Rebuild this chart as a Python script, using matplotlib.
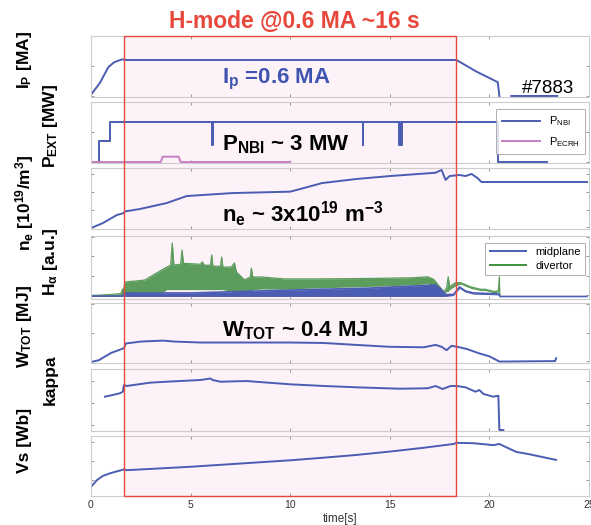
import numpy as np
import matplotlib
matplotlib.use("Agg")
import matplotlib.pyplot as plt
from matplotlib.patches import Rectangle
from matplotlib.transforms import blended_transform_factory

plt.rcParams['font.family'] = ['Liberation Sans', 'DejaVu Sans']
plt.rcParams['mathtext.default'] = 'regular'

nan = np.nan
shot = '#7883'
h_mode = (1.65, 18.3)   # start / end of the H-mode phase [s]

# plasma current [MA]
ip_t = [0, 0.45, 0.87, 1.15, 1.55, 1.8, 18.35, 19.33, 20.42, 20.5, 20.8, 21.1, 23.4]
ip_v = [0.02, 0.22, 0.48, 0.56, 0.61, 0.6, 0.6, 0.41, 0.23, 0.0, nan, 0.0, 0.0]

# heating power [MW], step signals
nbi_t = [0.0, 0.42, 0.95, 6.08, 6.11, 13.64, 13.67, 15.46, 15.49, 15.56, 15.59, 20.42, 22.9]
nbi_v = [0.0, 1.58, 3.0, 1.3, 3.0, 1.3, 3.0, 1.3, 3.0, 1.3, 3.0, 0.0, 0.0]
ecrh_t = [0, 3.5, 3.6, 4.4, 4.5, 10.0]
ecrh_v = [0, 0, 0.4, 0.4, 0, 0]

# line averaged density [1e19 m^-3]
ne_t = [0, 0.6, 1.3, 1.65, 1.7, 2.45, 3.8, 4.8, 7.1, 10.0, 10.5, 11.6, 13.3,
        15.0, 17.3, 17.6, 17.8, 18.0, 18.5, 18.8, 19.1, 19.4, 19.6, 24.9]
ne_v = [-0.06, 0.23, 0.69, 0.8, 0.89, 1.03, 1.37, 1.77, 1.94, 2.02, 2.17, 2.51, 2.74,
        2.91, 3.1, 3.26, 2.69, 2.91, 2.97, 2.91, 3.03, 2.8, 2.57, 2.57]

# H-alpha, midplane band
mid_t = [0, 1.6, 1.65, 5.0, 10.0, 14.0, 17.3, 17.6, 17.8, 18.2, 18.5, 18.8, 19.2, 20.45, 20.55, 24.9]
mid_lo = [-0.05, -0.05, -0.05, -0.05, -0.05, -0.05, -0.05, -0.05, -0.05, 0.0, 0.36, 0.17, 0.07, 0.03, -0.05, -0.05]
mid_hi = [-0.03, -0.03, 0.13, 0.13, 0.28, 0.38, 0.54, 0.28, 0.05, 0.05, 0.44, 0.23, 0.13, 0.08, -0.05, -0.05]

# H-alpha, divertor band
div_t = [0.0, 1.0, 1.5, 1.58, 1.62, 1.7, 2.7, 3.55, 3.8, 4.0, 4.08, 4.16, 4.5, 4.57, 4.64,
         5.5, 5.58, 5.7, 6.0, 6.06, 6.12, 6.5, 6.56, 6.62, 7.05, 7.2, 7.3, 7.7, 8.0, 8.05,
         8.12, 8.55, 9.7, 11.15, 12.8, 14.5, 16.2, 16.9, 17.2, 17.7, 17.85, 17.93, 18.0,
         18.3, 18.55, 19.05, 19.55, 19.8, 20.25, 20.45, 20.5, 20.52]
div_lo = [-0.03, -0.03, -0.03, -0.03, -0.03, 0.1, 0.13, 0.13, 0.3, 0.3, 0.3, 0.3, 0.3, 0.3, 0.3,
          0.3, 0.3, 0.3, 0.3, 0.3, 0.3, 0.3, 0.3, 0.3, 0.2, 0.13, 0.13, 0.13, 0.15, 0.2,
          0.3, 0.33, 0.33, 0.38, 0.43, 0.48, 0.55, 0.6, 0.5, 0.1, 0.2, 0.2, 0.3,
          0.5, 0.58, 0.37, 0.25, 0.25, 0.13, 0.18, -0.06, -0.06]
div_hi = [0.0, 0.05, 0.1, 0.33, 0.12, 0.69, 0.79, 1.31, 1.45, 1.56, 2.69, 1.56, 1.6, 2.33, 1.65,
          1.6, 1.72, 1.55, 1.55, 2.08, 1.5, 1.5, 1.97, 1.45, 1.46, 1.67, 1.2, 0.8, 0.95, 1.41,
          0.95, 0.95, 0.85, 0.85, 0.86, 0.88, 0.91, 0.96, 0.83, 0.2, 0.37, 0.96, 0.45,
          0.66, 0.66, 0.45, 0.32, 0.32, 0.2, 0.25, 0.96, -0.06]

# stored energy [MJ]
w_t = [0, 0.4, 1.0, 1.65, 1.75, 2.5, 3.6, 4.2, 5.5, 10.0, 11.7, 13.3, 15.0, 16.7, 17.3,
       17.6, 17.85, 18.1, 18.4, 18.9, 19.5, 20.0, 20.5, 23.3, 23.35]
w_v = [-0.02, 0.02, 0.17, 0.27, 0.37, 0.41, 0.43, 0.41, 0.39, 0.39, 0.38, 0.34, 0.3, 0.29, 0.34,
       0.3, 0.23, 0.32, 0.3, 0.25, 0.16, 0.1, -0.01, 0.0, 0.06]

# elongation
k_t = [0.7, 1.45, 1.6, 1.65, 1.8, 2.95, 3.8, 5.5, 6.0, 6.1, 6.5, 7.8, 10.0, 11.7, 13.3, 15.5,
       16.9, 17.3, 17.65, 18.05, 18.35, 18.8, 19.3, 19.5, 19.7, 20.2, 20.45, 20.5, 20.7]
k_v = [1.553, 1.608, 1.634, 1.742, 1.726, 1.779, 1.795, 1.823, 1.847, 1.823, 1.795, 1.806,
       1.753, 1.726, 1.705, 1.682, 1.689, 1.726, 1.677, 1.726, 1.726, 1.705, 1.634, 1.661,
       1.597, 1.553, 1.569, 1.016, 1.016]

# loop flux [Wb]
vs_t = [0, 0.3, 0.6, 0.97, 1.65, 1.8, 5.0, 10.0, 11.7, 13.3, 15.0, 16.7, 18.2, 18.35, 19.2,
        20.2, 20.5, 20.7, 21.35, 22.0, 23.35]
vs_v = [0.32, 0.5, 0.61, 0.68, 0.78, 0.76, 0.85, 1.02, 1.09, 1.16, 1.25, 1.35, 1.45, 1.48, 1.47,
        1.42, 1.45, 1.4, 1.24, 1.18, 1.03]

blue = '#4b5cb3'
green = '#5c9c5c'
dgreen = '#3f8f3f'
pink = '#c77fc4'
red = '#e8473c'

W, H = 591, 525
fig = plt.figure(figsize=(W / 100, H / 100), dpi=100)

# panel top/bottom in pixels
rows = [(36, 97), (102, 163), (168, 229), (236, 299), (303, 363), (369, 431), (436, 496)]
left, right = 91, 589
axes = []
for top, bot in rows:
    ax = fig.add_axes([left / W, 1 - bot / H, (right - left) / W, (bot - top) / H])
    ax.set_facecolor('none')
    ax.set_xlim(0, 25)
    ax.set_xticks([0, 5, 10, 15, 20, 25])
    ax.tick_params(direction='in', length=2, width=0.6, color='#888888',
                   top=True, right=True, labelleft=False, labelbottom=False,
                   labelsize=7.5, labelcolor='#333333')
    for s in ax.spines.values():
        s.set_color('#cccccc')
        s.set_linewidth(0.8)
    axes.append(ax)
ax1, ax2, ax3, ax4, ax5, ax6, ax7 = axes

lw = 1.4
ax1.plot(ip_t, ip_v, color=blue, lw=lw)
ax1.set_ylim(-0.017, 1.0)
ax1.set_yticks([0, 0.5, 1.0])

ax2.plot(nbi_t, nbi_v, color=blue, lw=lw, drawstyle='steps-post', label='$P_{NBI}$')
ax2.plot(ecrh_t, ecrh_v, color=pink, lw=lw, label='$P_{ECRH}$')
ax2.set_ylim(-0.075, 4.5)
ax2.set_yticks([0, 2.25, 4.5])
ax2.legend(loc='upper right', bbox_to_anchor=(0.992, 0.885), borderaxespad=0, fontsize=8,
           frameon=True, fancybox=False, edgecolor='#999999', handlelength=3.4,
           labelspacing=0.6, borderpad=0.5).get_frame().set_linewidth(0.7)

ax3.plot(ne_t, ne_v, color=blue, lw=lw)
ax3.set_ylim(-0.11, 3.37)
ax3.set_yticks([0, 1, 2, 3])

ax4.fill_between(div_t, div_lo, div_hi, color=green, lw=0)
ax4.plot(div_t, div_hi, color=green, lw=0.9)
ax4.fill_between(mid_t, mid_lo, mid_hi, color=blue, lw=0)
ax4.plot(mid_t, mid_hi, color=blue, lw=1.2)
ax4.plot([], [], color=blue, lw=lw, label='midplane')
ax4.plot([], [], color=dgreen, lw=lw, label='divertor')
ax4.set_ylim(-0.18, 3.05)
ax4.set_yticks([0, 1, 2, 3])
ax4.legend(loc='upper right', bbox_to_anchor=(0.992, 0.89), borderaxespad=0, fontsize=8,
           frameon=True, fancybox=False, edgecolor='#999999', handlelength=3.3,
           labelspacing=0.3, borderpad=0.4).get_frame().set_linewidth(0.7)

ax5.plot(w_t, w_v, color=blue, lw=lw)
ax5.set_ylim(-0.04, 1.22)
ax5.set_yticks([0, 0.6, 1.2])

ax6.plot(k_t, k_v, color=blue, lw=lw)
ax6.set_ylim(1.0, 2.0)
ax6.set_yticks([1.1, 1.45, 1.8])

ax7.plot(vs_t, vs_v, color=blue, lw=lw)
ax7.set_ylim(0.08, 1.66)
ax7.set_yticks([0.5, 1.0, 1.5])
ax7.tick_params(labelbottom=True, pad=3)
ax7.set_xlabel('time[s]', fontsize=8.5, labelpad=2, color='#333333')

# annotations inside panels
ax1.text(0.263, 0.225, '$I_p$ =0.6 MA', transform=ax1.transAxes, fontsize=16,
         fontweight='bold', color='#3f53b0', va='baseline')
ax1.text(0.865, 0.06, shot, transform=ax1.transAxes, fontsize=13.5, va='baseline')
ax2.text(0.263, 0.2, '$P_{NBI}$ ~ 3 MW', transform=ax2.transAxes, fontsize=16,
         fontweight='bold', va='baseline')
ax3.text(0.263, 0.12, '$n_e$ ~ 3x10$^{19}$ m$^{-3}$', transform=ax3.transAxes, fontsize=16,
         fontweight='bold', va='baseline')
ax5.text(0.263, 0.44, '$W_{TOT}$ ~ 0.4 MJ', transform=ax5.transAxes, fontsize=16,
         fontweight='bold', va='baseline')

# H-mode window across all panels
y0 = 1 - rows[-1][1] / H
y1 = 1 - rows[0][0] / H
trans = blended_transform_factory(ax7.transData, fig.transFigure)
fig.add_artist(Rectangle((h_mode[0], y0), h_mode[1] - h_mode[0], y1 - y0, transform=trans,
                         facecolor='#fcf2f7', edgecolor='none', zorder=-1))
fig.add_artist(Rectangle((h_mode[0], y0), h_mode[1] - h_mode[0], y1 - y0, transform=trans,
                         fill=False, edgecolor=red, lw=1.0, zorder=5))

fig.text(294 / W, 1 - 22 / H, 'H-mode @0.6 MA ~16 s', color=red, fontsize=16.5,
         fontweight='bold', ha='center', va='center')

# y labels in two staggered columns
ylabels = [
    ('$I_P$ [MA]', 25, 60),
    ('$P_{EXT}$ [MW]', 50, 126),
    ('$n_e$ [10$^{19}$/m$^3$]', 25, 203),
    (r'$H_\alpha$ [a.u.]', 50, 262),
    ('$W_{TOT}$ [MJ]', 25, 327),
    ('kappa', 50, 380),
    ('Vs [Wb]', 25, 440),
]
for txt, x, y in ylabels:
    fig.text(x / W, 1 - y / H, txt, rotation=90, fontsize=12.5, fontweight='bold',
             ha='center', va='center')

fig.savefig('out.png', dpi=100)
